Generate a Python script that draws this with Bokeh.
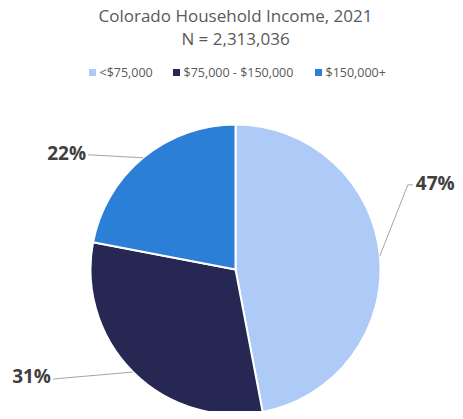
import math
from bokeh.plotting import figure
from bokeh.models import ColumnDataSource, Range1d
from bokeh.core.properties import value
from bokeh.embed import file_html
from bokeh.resources import INLINE

# ---- data ----
categories = ["<$75,000", "$75,000 - $150,000", "$150,000+"]
shares = [47, 31, 22]
colors = ["#aecbf7", "#262853", "#2b7fd6"]
title_lines = ["Colorado Household Income, 2021", "N = 2,313,036"]

# ---- layout (figure pixel coords; data y = FH - pixel y) ----
FW, FH = 455, 411
def Y(py):
    return FH - py

cx, cy, r = 235, 269, 145

p = figure(width=FW, height=FH, output_backend="svg", toolbar_location=None,
           x_range=Range1d(0, FW), y_range=Range1d(0, FH),
           min_border=0)
p.axis.visible = False
p.grid.visible = False
p.outline_line_color = None
p.background_fill_color = "white"
p.border_fill_color = "white"

total = sum(shares)
starts, ends, mids = [], [], []
cum = 0.0
for s in shares:
    a0 = math.pi / 2 - 2 * math.pi * cum / total
    cum += s
    a1 = math.pi / 2 - 2 * math.pi * cum / total
    starts.append(a0)
    ends.append(a1)
    mids.append((a0 + a1) / 2)

src = ColumnDataSource(dict(start=starts, end=ends, color=colors))
p.wedge(x=cx, y=Y(cy), radius=r, start_angle="start", end_angle="end",
        direction="clock", fill_color="color", line_color="white",
        line_width=2, source=src)

# ---- data labels with leader lines ----
# (elbow offset, end offset, text offset, align) in pixels relative to edge point
label_style = [
    ((28, -71), (33, -71), (36, -73), "left"),   # 47%
    (None, (-80, 7), (-82, 4), "right"),         # 31%
    (None, (-55, -3), (-57, -5), "right"),       # 22%
]
for s, m, (elb, end, toff, align) in zip(shares, mids, label_style):
    ex = cx + r * math.cos(m)
    ey = cy - r * math.sin(m)
    xs = [ex]
    ys = [Y(ey)]
    if elb is not None:
        xs.append(ex + elb[0]); ys.append(Y(ey + elb[1]))
    xs.append(ex + end[0]); ys.append(Y(ey + end[1]))
    p.line(xs, ys, line_color="#a6a6a6", line_width=1)
    p.text(x=[ex + toff[0]], y=[Y(ey + toff[1])], text=[f"{s}%"],
           text_font=value("Open Sans"), text_font_style="bold",
           text_font_size="19px", text_color="#404040",
           text_align=align, text_baseline="middle")

# ---- title ----
p.text(x=[235, 235], y=[Y(15), Y(38)], text=title_lines,
       text_font=value("Open Sans"), text_font_size="17px",
       text_color="#595959", text_align="center", text_baseline="middle")

# ---- legend ----
leg_sq_x = [92, 176, 318]
leg_y = 72
p.scatter(x=leg_sq_x, y=[Y(leg_y)] * 3, marker="square", size=7,
          fill_color=colors, line_color=None)
p.text(x=[x + 7 for x in leg_sq_x], y=[Y(leg_y)] * 3, text=categories,
       text_font=value("Open Sans"), text_font_size="12.5px",
       text_color="#595959", text_align="left", text_baseline="middle")

open("out.html", "w").write(file_html(p, INLINE))
